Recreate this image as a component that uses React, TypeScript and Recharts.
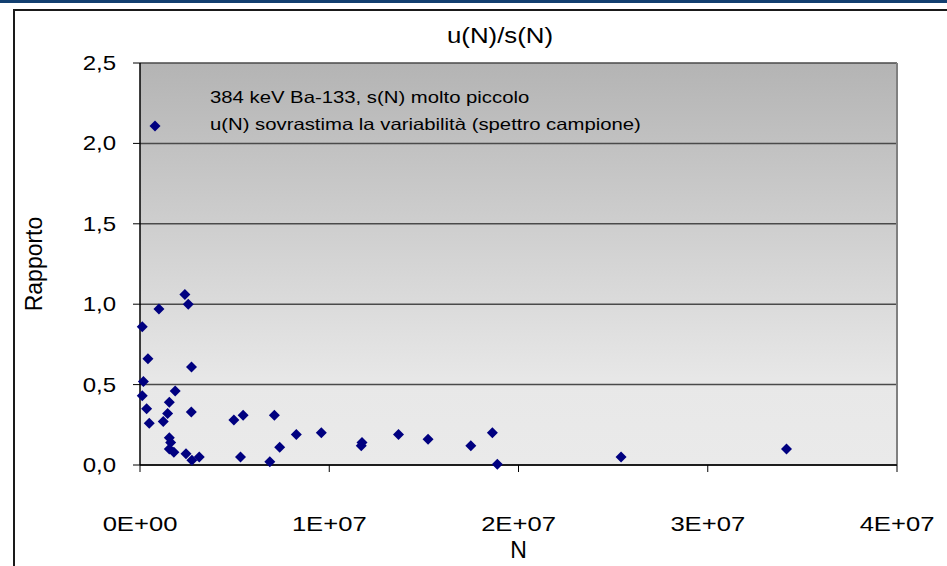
import React from "react";
import {
  ScatterChart,
  Scatter,
  XAxis,
  YAxis,
  CartesianGrid,
  ReferenceLine,
} from "recharts";

// values
const countValues = [
  2.37e6, 2.55e6, 1.0e6, 0.12e6, 0.42e6, 2.72e6, 0.18e6, 1.86e6, 0.12e6, 1.55e6,
  0.35e6, 2.71e6, 1.46e6, 1.23e6, 0.49e6, 1.55e6, 1.62e6, 1.55e6, 1.79e6, 2.43e6,
  2.74e6, 3.13e6, 4.96e6, 5.45e6, 7.1e6, 8.26e6, 9.58e6, 7.38e6, 5.31e6, 6.86e6,
  11.73e6, 11.69e6, 13.66e6, 15.22e6, 17.48e6, 18.62e6, 18.88e6, 25.42e6, 34.16e6,
];
const ratioValues = [
  1.06, 1.0, 0.97, 0.86, 0.66, 0.61, 0.52, 0.46, 0.43, 0.39,
  0.35, 0.33, 0.32, 0.27, 0.26, 0.17, 0.14, 0.1, 0.08, 0.07,
  0.03, 0.05, 0.28, 0.31, 0.31, 0.19, 0.2, 0.11, 0.05, 0.02,
  0.14, 0.12, 0.19, 0.16, 0.12, 0.2, 0.004, 0.05, 0.1,
];
const xTicks = [0, 1e7, 2e7, 3e7, 4e7];
const xTickLabels = ["0E+00", "1E+07", "2E+07", "3E+07", "4E+07"];
const yTicks = [0, 0.5, 1, 1.5, 2, 2.5];
const legendLines = [
  "384 keV Ba-133, s(N) molto piccolo",
  "u(N) sovrastima la variabilità (spettro campione)",
];

const data = countValues.map((n, i) => ({ n, r: ratioValues[i] }));

const FONT = '"Liberation Sans", Arial, sans-serif';
const MARK = "#000080";
const STRETCH = 1.2;

const Diamond = (props: any) => {
  const { cx, cy } = props;
  const h = 5.5;
  return (
    <polygon
      points={`${cx},${cy - h} ${cx + h},${cy} ${cx},${cy + h} ${cx - h},${cy}`}
      fill={MARK}
    />
  );
};

const XTick = (props: any) => {
  const { x, y, payload } = props;
  const idx = xTicks.indexOf(payload.value);
  return (
    <g transform={`translate(${x},${y + 57}) scale(1.25,1)`}>
      <text textAnchor="middle" fontFamily={FONT} fontSize={20.5} fill="#000">
        {xTickLabels[idx] ?? ""}
      </text>
    </g>
  );
};

const YTick = (props: any) => {
  const { x, y, payload } = props;
  const label = payload.value.toFixed(1).replace(".", ",");
  return (
    <g transform={`translate(${x - 15},${y + 7}) scale(${STRETCH},1)`}>
      <text textAnchor="end" fontFamily={FONT} fontSize={20} fill="#000">
        {label}
      </text>
    </g>
  );
};

const LegendBox = () => (
  <div
    style={{
      position: "absolute",
      left: 143,
      top: 87,
      width: 560,
      height: 60,
      fontFamily: FONT,
    }}
  >
    <svg width={20} height={20} style={{ position: "absolute", left: 2, top: 29 }}>
      <polygon points="10,4.5 15.5,10 10,15.5 4.5,10" fill={MARK} />
    </svg>
    {legendLines.map((t, i) => (
      <div
        key={i}
        style={{
          position: "absolute",
          left: 67,
          top: i * 27,
          fontSize: 16.5,
          lineHeight: "20px",
          whiteSpace: "nowrap",
          transform: "scaleX(1.23)",
          transformOrigin: "0 0",
          color: "#000",
        }}
      >
        {t}
      </div>
    ))}
  </div>
);

export default function App() {
  return (
    <div
      style={{
        position: "absolute",
        left: 0,
        top: 0,
        width: 947,
        height: 566,
        background: "#fff",
        overflow: "hidden",
      }}
    >
      <div style={{ position: "absolute", left: 0, top: 0, width: 947, height: 3, background: "#123f70" }} />
      <div
        style={{
          position: "absolute",
          left: 13,
          top: 9,
          width: 960,
          height: 600,
          borderLeft: "2px solid #1a1a1a",
          borderTop: "2px solid #1a1a1a",
        }}
      />
      <div
        style={{
          position: "absolute",
          left: 0,
          width: 1000,
          top: 24,
          textAlign: "center",
          fontFamily: FONT,
          fontSize: 21.5,
          transform: `scaleX(${STRETCH})`,
          transformOrigin: "500px 0",
        }}
      >
        u(N)/s(N)
      </div>
      <ScatterChart
        width={947}
        height={566}
        margin={{ top: 63, right: 50, bottom: 11, left: 0 }}
        style={{ position: "absolute", left: 0, top: 0 }}
      >
        <defs>
          <linearGradient id="plotBg" x1="0" y1="0" x2="0" y2="1">
            <stop offset="0%" stopColor="#b4b4b4" />
            <stop offset="80%" stopColor="#e8e8e8" />
            <stop offset="100%" stopColor="#eaeaea" />
          </linearGradient>
        </defs>
        <CartesianGrid
          vertical={false}
          stroke="#4a4a4a"
          strokeWidth={1.5}
          fill="url(#plotBg)"
          fillOpacity={1}
        />
        <XAxis
          type="number"
          dataKey="n"
          domain={[0, 4e7]}
          ticks={xTicks}
          height={90}
          tickSize={7}
          axisLine={{ stroke: "#000", strokeWidth: 1.5 }}
          tickLine={{ stroke: "#000" }}
          tick={<XTick />}
          label={{
            value: "N",
            position: "insideBottom",
            offset: -3,
            fontFamily: FONT,
            fontSize: 23,
            fill: "#000",
          }}
        />
        <YAxis
          type="number"
          dataKey="r"
          domain={[0, 2.5]}
          ticks={yTicks}
          width={140}
          tickSize={7}
          axisLine={{ stroke: "#000", strokeWidth: 1.5 }}
          tickLine={{ stroke: "#000" }}
          tick={<YTick />}
          label={{
            value: "Rapporto",
            angle: -90,
            position: "insideLeft",
            offset: 34,
            style: { textAnchor: "middle" },
            fontFamily: FONT,
            fontSize: 23,
            fill: "#000",
          }}
        />
        <ReferenceLine x={4e7} stroke="#808080" strokeWidth={2} />
        <Scatter
          data={data}
          shape={<Diamond />}
          fill={MARK}
          isAnimationActive={false}
        />
      </ScatterChart>
      <LegendBox />
    </div>
  );
}
